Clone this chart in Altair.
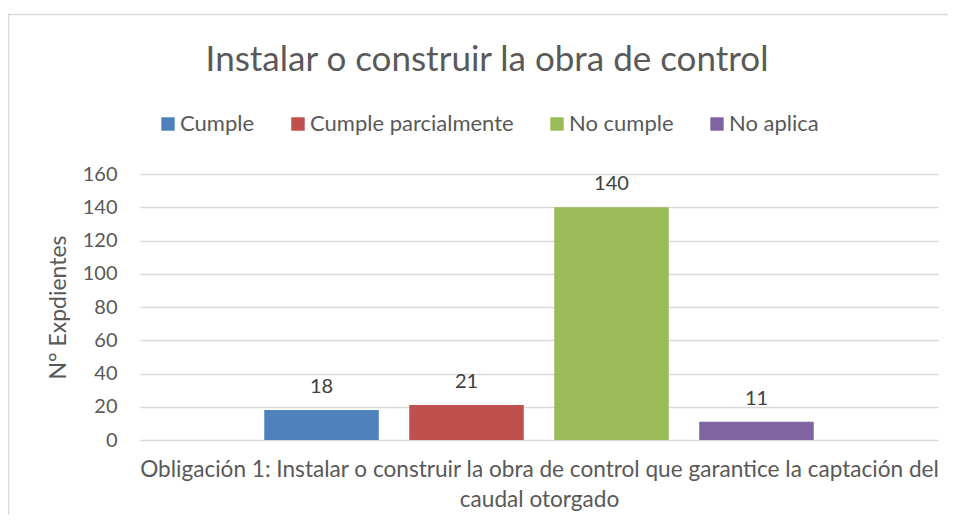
import altair as alt
import pandas as pd

categories = ["Cumple", "Cumple parcialmente", "No cumple", "No aplica"]
values = [18, 21, 140, 11]
colors = ["#4F81BD", "#C0504D", "#9BBB59", "#8064A2"]
y_ticks = [0, 20, 40, 60, 80, 100, 120, 140, 160]
chart_title = "Instalar o construir la obra de control"
x_title = ["Obligación 1:  Instalar o construir la obra de control que garantice la captación del",
           "caudal otorgado"]
y_title = "N° Expdientes"

df = pd.DataFrame({"estado": categories, "valor": values})

FONT = "Lato"
TXT = "#595959"

x_enc = alt.X("estado:N", sort=categories,
              scale=alt.Scale(paddingInner=0.21, paddingOuter=0.857),
              axis=alt.Axis(labels=False, ticks=False, domain=False, grid=False, title=x_title,
                            titleFont=FONT, titleFontSize=22.6, titleFontWeight="normal",
                            titleColor=TXT, titleLineHeight=30, titlePadding=18))
y_enc = alt.Y("valor:Q", scale=alt.Scale(domain=[0, 160], nice=False),
              axis=alt.Axis(values=y_ticks, ticks=False, domain=False, grid=True,
                            gridColor="#D9D9D9", gridWidth=1.3, labelOverlap=False,
                            labelFont=FONT, labelFontSize=20, labelColor=TXT, labelPadding=23,
                            title=y_title, titleFont=FONT, titleFontSize=23,
                            titleFontWeight="normal", titleColor=TXT, titlePadding=12))

bars = alt.Chart(df).mark_bar().encode(
    x=x_enc,
    y=y_enc,
    color=alt.Color("estado:N", sort=categories,
                    scale=alt.Scale(domain=categories, range=colors),
                    legend=alt.Legend(title=None, orient="none", direction="horizontal",
                                      legendX=17, legendY=-61, labelLimit=0,
                                      symbolType="square", symbolSize=180, symbolStrokeWidth=0,
                                      labelFont=FONT, labelFontSize=22, labelColor=TXT,
                                      labelOffset=1, columnPadding=32)),
)

labels = alt.Chart(df).mark_text(baseline="bottom", dy=-13, font=FONT, fontSize=20,
                                 color="#404040").encode(
    x=x_enc,
    y=y_enc,
    text="valor:Q",
)

frame_df = pd.DataFrame({"k": [0]})
top_border = alt.Chart(frame_df).mark_rule(color="#D9D9D9", strokeWidth=1.5).encode(
    x=alt.value(-132), x2=alt.value(900), y=alt.value(-159.5))
left_border = alt.Chart(frame_df).mark_rule(color="#D9D9D9", strokeWidth=1.5).encode(
    x=alt.value(-131.5), y=alt.value(-160), y2=alt.value(400))

chart = alt.layer(bars, labels, top_border, left_border).properties(
    width=798, height=266,
    padding={"left": 132, "top": 166, "right": 10, "bottom": 75},
    autosize=alt.AutoSizeParams(type="none"),
    background="white",
    title=alt.TitleParams(chart_title, font=FONT, fontSize=35, fontWeight="normal",
                          color=TXT, anchor="middle", dx=-52, offset=-65),
).configure_view(strokeWidth=0, stroke="white", strokeOpacity=0)

chart.save("out.html", embed_options={"renderer": "svg", "actions": False})
